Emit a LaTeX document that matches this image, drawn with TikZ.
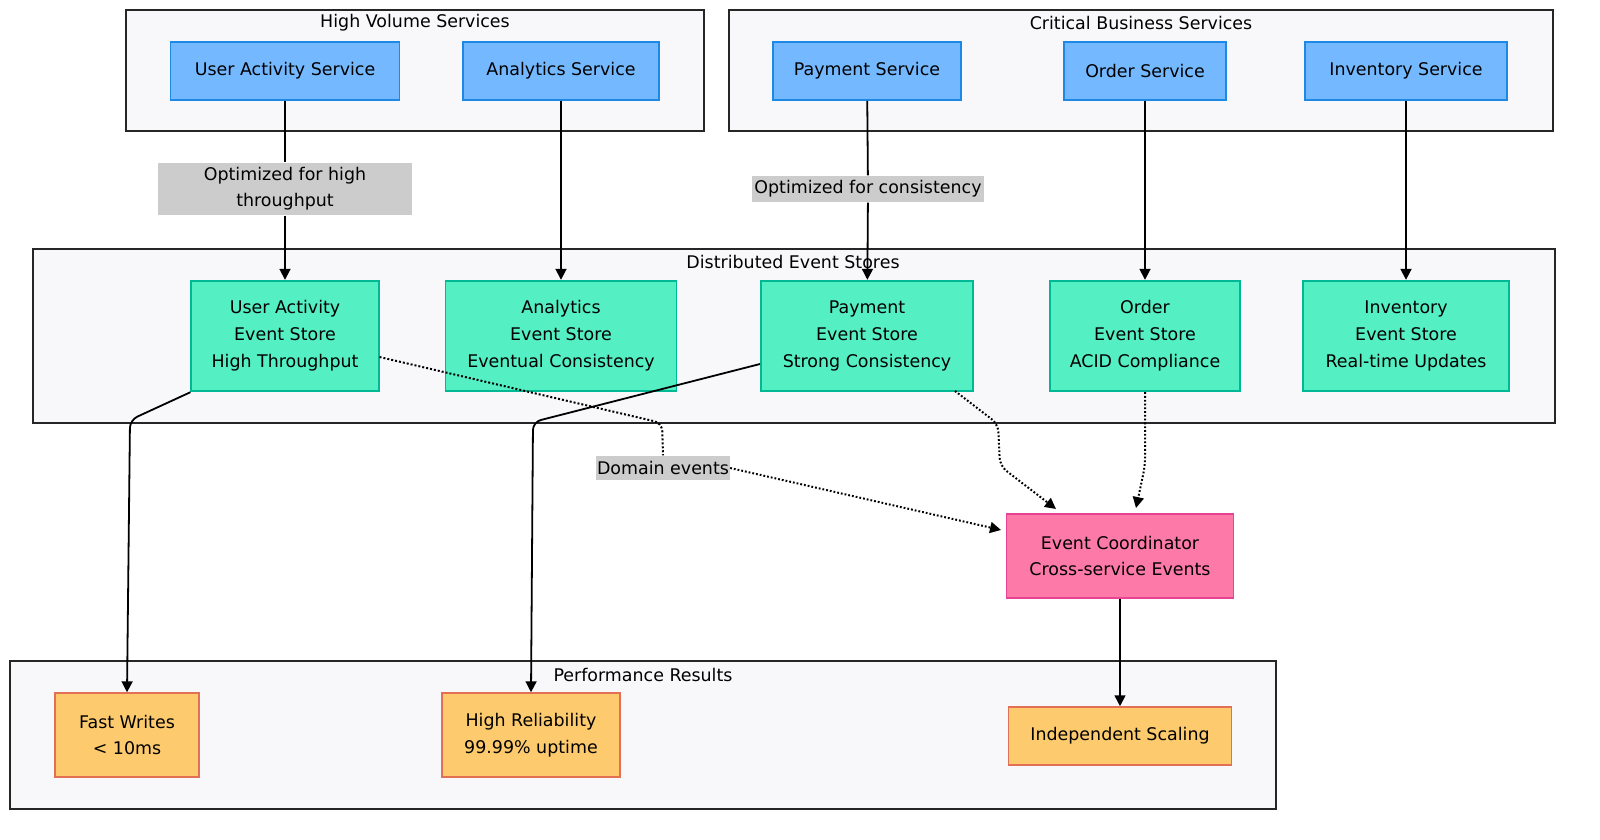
\documentclass[tikz,border=0pt]{standalone}
\usepackage{fontspec}
\setmainfont{DejaVu Sans}
\usetikzlibrary{arrows.meta}
\definecolor{grpfill}{HTML}{F8F8FB}
\definecolor{svcfill}{HTML}{74B9FF}
\definecolor{svcdraw}{HTML}{1E88E5}
\definecolor{stfill}{HTML}{55EFC4}
\definecolor{stdraw}{HTML}{00B894}
\definecolor{cofill}{HTML}{FD79A8}
\definecolor{codraw}{HTML}{E84393}
\definecolor{rsfill}{HTML}{FDCB6E}
\definecolor{rsdraw}{HTML}{E17055}
\definecolor{lblfill}{HTML}{CCCCCC}
\tikzset{
 grp/.style={draw=black!85,line width=1.8pt,fill=grpfill},
 bx/.style={line width=1.8pt,align=center,font=\fontsize{17.5}{27}\selectfont},
 svc/.style={bx,draw=svcdraw,fill=svcfill},
 st/.style={bx,draw=stdraw,fill=stfill},
 co/.style={bx,draw=codraw,fill=cofill},
 rs/.style={bx,draw=rsdraw,fill=rsfill},
 lbl/.style={fill=lblfill,align=center,inner sep=1pt,font=\fontsize{17.5}{26}\selectfont},
 gl/.style={font=\fontsize{17.5}{19}\selectfont},
 arr/.style={line width=1.8pt,-{Triangle[length=11pt,width=11pt]},rounded corners=8pt},
 dot/.style={arr,dotted,line width=2pt},
}
\begin{document}
\begin{tikzpicture}[x=1bp,y=-1bp]
\useasboundingbox (0,0) rectangle (1600,839);
% groups
\draw[grp] (126,10) rectangle (704,131);
\node[gl] (g1) at (415,23) {High Volume Services};
\draw[grp] (729,10) rectangle (1553,131);
\node[gl] (g2) at (1141,23) {Critical Business Services};
\draw[grp] (33,249) rectangle (1555,423);
\node[gl] (g3) at (793,262) {Distributed Event Stores};
\draw[grp] (10,661) rectangle (1276,809);
\node[gl] (g4) at (643,675) {Performance Results};
% services
\node[svc,minimum width=230,minimum height=58] (uas) at (285,71) {User Activity Service};
\node[svc,minimum width=196,minimum height=58] (ans) at (561,71) {Analytics Service};
\node[svc,minimum width=189,minimum height=58] (pas) at (867,71) {Payment Service};
\node[svc,minimum width=162,minimum height=58] (ors) at (1145,71) {Order Service};
\node[svc,minimum width=202,minimum height=58] (ins) at (1406,71) {Inventory Service};
% stores
\node[st,minimum width=188,minimum height=111] (uae) at (285,336) {User Activity\\Event Store\\High Throughput};
\node[st,minimum width=232,minimum height=111] (ane) at (561,336) {Analytics\\Event Store\\Eventual Consistency};
\node[st,minimum width=213,minimum height=111] (pae) at (867,336) {Payment\\Event Store\\Strong Consistency};
\node[st,minimum width=190,minimum height=111] (ore) at (1145,336) {Order\\Event Store\\ACID Compliance};
\node[st,minimum width=207,minimum height=111] (ine) at (1406,336) {Inventory\\Event Store\\Real-time Updates};
% coordinator
\node[co,minimum width=228,minimum height=84] (ec) at (1120,556) {Event Coordinator\\Cross-service Events};
% results
\node[rs,minimum width=145,minimum height=84] (fw) at (127,735) {Fast Writes\\< 10ms};
\node[rs,minimum width=178,minimum height=84] (hr) at (531,735) {High Reliability\\99.99\% uptime};
\node[rs,minimum width=224,minimum height=58] (is) at (1120,736) {Independent Scaling};
% labels
\node[lbl,minimum width=254,minimum height=53] (l1) at (285,189) {Optimized for high\\throughput};
\node[lbl,minimum width=232,minimum height=27] (l2) at (868,189) {Optimized for consistency};
\node[lbl,minimum width=131,minimum height=25] (l3) at (663,468) {Domain events};
% arrows
\draw[line width=1.8pt] (uas) -- (l1);
\draw[arr] (l1) -- (uae);
\draw[arr] (ans) -- (ane);
\draw[line width=1.8pt] (pas) -- (l2);
\draw[arr] (l2) -- (pae);
\draw[arr] (ors) -- (ore);
\draw[arr] (ins) -- (ine);
\draw[arr] (uae.south west) -- (130,420) -- (fw.north);
\draw[arr] (pae.west |- 0,364) -- (533,422) -- (hr.north);
\draw[dotted,line width=2pt,rounded corners=8pt] (uae.east |- 0,357) -- (662,423) -- (l3.north);
\draw[dot] (l3.east) -- (1001,530);
\draw[dot] (955,391) -- (998,424) -- (1000,466) -- (1056,509);
\draw[dot] (ore.south) -- (1145,466) -- (1136,508);
\draw[arr] (ec) -- (is);
\end{tikzpicture}
\end{document}
